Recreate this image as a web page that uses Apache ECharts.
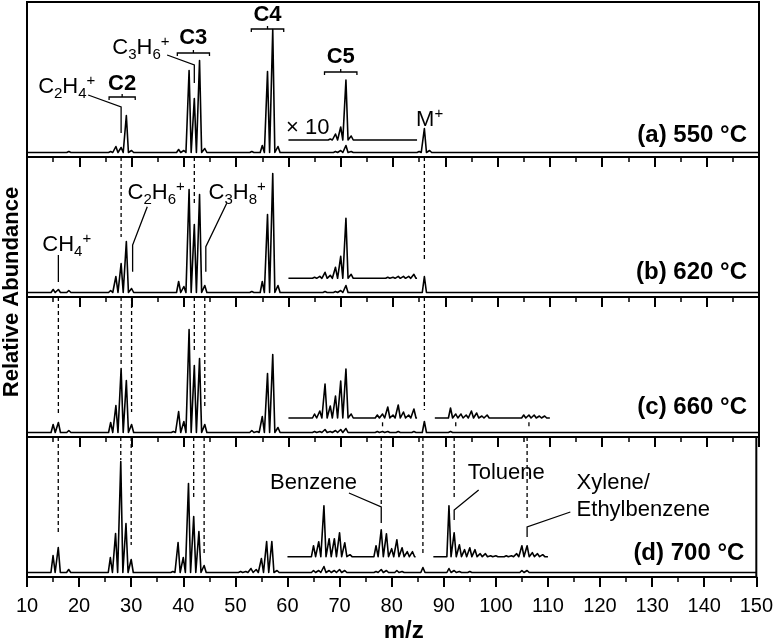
<!DOCTYPE html>
<html><head><meta charset="utf-8">
<script src="https://cdn.jsdelivr.net/npm/echarts@6/dist/echarts.min.js"></script>
<style>html,body{margin:0;padding:0;background:#fff}#c{width:776px;height:644px}</style>
</head><body><div id="c"></div>
<script>
// ---------------- data ----------------
const panelLabels = ['(a) 550 °C', '(b) 620 °C', '(c) 660 °C', '(d) 700 °C'];
const xTicks = [10, 20, 30, 40, 50, 60, 70, 80, 90, 100, 110, 120, 130, 140, 150];

// main spectra: [m/z, relative abundance]
const peaksA = [[18,1],[26,1],[27,6],[28,5],[29,37],[30,2],[39,3],[40,2],[41,82],[42,54],[43,92],[44,4],
  [53,1],[55,7],[56,81],[57,123],[58,6],[69,1],[70,2],[71,7],[72,1],[85,1],[86,24],[87,2]];
const peaksB = [[15,3],[16,3],[18,2],[26,2],[27,16],[28,29],[29,51],[30,4],[39,11],[40,6],[41,103],[42,68],[43,98],[44,7],
  [53,1],[55,11],[56,78],[57,119],[58,7],[67,1],[69,1],[70,2],[71,7],[86,16]];
const peaksC = [[15,8],[16,10],[18,2],[26,10],[27,27],[28,64],[29,52],[30,8],[38,1],[39,21],[40,11],[41,103],[42,67],[43,74],[44,8],
  [53,2],[54,1],[55,16],[56,59],[57,78],[58,5],[65,1],[66,1],[67,3],[68,1],[69,2],[70,3],[71,4],[77,1],[78,1],[79,1],[81,1],[84,1],[86,11],[91,1]];
const peaksD = [[15,17],[16,25],[18,3],[26,15],[27,39],[28,111],[29,49],[30,13],[38,1],[39,30],[40,15],[41,89],[42,56],[43,41],[44,7],
  [51,1],[52,1],[53,4],[54,3],[55,14],[56,31],[57,31],[58,2],[65,2],[66,2],[67,6],[68,2],[69,2],[70,3],[71,2],
  [77,1],[78,3],[79,2],[81,2],[82,1],[86,5],[91,4],[92,2],[93,1],[95,1],[105,2],[106,2]];

// x10 expanded segments: [m/z, abundance x10]
const insertA1 = [[68,1],[69,6],[70,13],[71,60],[72,4]];
const insertB1 = [[65,1],[66,2],[67,6],[68,3],[69,11],[70,22],[71,60],[72,4],[79,1],[80,1],[81,2],[82,2],[83,2],[84,4]];
const insertC1 = [[65,4],[66,7],[67,34],[68,12],[69,22],[70,37],[71,49],[72,4],[77,3],[78,4],[79,11],[80,3],[81,13],[82,6],[83,3],[84,9]];
const insertC2 = [[91,10],[92,4],[93,4],[94,3],[95,7],[96,5],[97,2],[98,3],[105,3],[106,3],[107,3],[108,2],[109,2]];
const insertD1 = [[65,11],[66,15],[67,51],[68,18],[69,18],[70,24],[71,14],[72,2],[77,11],[78,27],[79,23],[80,8],[81,17],[82,9],[83,5],[84,5]];
const insertD2 = [[91,51],[92,24],[93,12],[94,7],[95,9],[96,7],[97,3],[98,3],[99,1],[100,1],[102,1],[103,1],[104,3],[105,11],[106,11],[107,4],[108,3],[109,2]];
const insertRange1 = [60, 84.6];
const insertRange2 = [88, 110];

// ---------------- chart ----------------
const FONT = '"Liberation Sans", Arial, Helvetica, sans-serif';
const W = 0.4;
function trace(peaks, x0, x1, base) {
  const s = peaks.slice().sort((a, b) => a[0] - b[0]);
  const pts = [[x0, base]];
  for (const [m, h] of s) pts.push([m - W, base], [m, base + h], [m + W, base]);
  pts.push([x1, base]);
  return pts;
}
const panels = [
  { main: peaksA, ins: [[insertA1, insertRange1]], off: 12.5 },
  { main: peaksB, ins: [[insertB1, insertRange1]], off: 14.2 },
  { main: peaksC, ins: [[insertC1, insertRange1], [insertC2, insertRange2]], off: 14.5 },
  { main: peaksD, ins: [[insertD1, insertRange1], [insertD2, insertRange2]], off: 15.8 }
];
const gridPos = [[2, 155], [157, 140], [297, 140], [437, 140]];
const yMax = [150.5, 135.5, 135.5, 135.5];
const yMin = -4.5;

const chart = echarts.init(document.getElementById('c'), null, { renderer: 'canvas' });
const grid = [], xAxis = [], yAxis = [], series = [];
panels.forEach((p, i) => {
  grid.push({ left: 27, right: 17, top: gridPos[i][0], height: gridPos[i][1], show: true,
    borderColor: '#000', borderWidth: 2, backgroundColor: 'transparent' });
  xAxis.push({ type: 'value', gridIndex: i, min: xTicks[0], max: xTicks[xTicks.length - 1], interval: 10,
    axisLine: { show: true, onZero: false, lineStyle: { color: '#000', width: 2 } },
    axisTick: { show: true, inside: false, length: 10, lineStyle: { color: '#000', width: 2 } },
    minorTick: { show: true, splitNumber: 2, length: 5, lineStyle: { color: '#000', width: 1.5 } },
    splitLine: { show: false }, minorSplitLine: { show: false },
    axisLabel: { show: i === 3, color: '#000', fontSize: 20, fontFamily: FONT, margin: 19 } });
  yAxis.push({ type: 'value', gridIndex: i, min: yMin, max: yMax[i], show: false,
    splitLine: { show: false } });
  const ls = { color: '#000', width: 1.6, join: 'round' };
  series.push({ type: 'line', xAxisIndex: i, yAxisIndex: i, data: trace(p.main, 10, 150, 0),
    showSymbol: false, symbol: 'none', lineStyle: ls, silent: true, animation: false });
  p.ins.forEach(([pk, rg]) => {
    series.push({ type: 'line', xAxisIndex: i, yAxisIndex: i, data: trace(pk, rg[0], rg[1], p.off),
      showSymbol: false, symbol: 'none', lineStyle: ls, silent: true, animation: false });
  });
});
chart.setOption({ animation: false, backgroundColor: '#fff', grid, xAxis, yAxis, series });

// ---------------- annotations ----------------
const P = (i, m, v) => chart.convertToPixel({ xAxisIndex: i, yAxisIndex: i }, [m, v]);
const g = [];
const rich = {
  s: { fontSize: 15, fontFamily: FONT, verticalAlign: 'bottom', lineHeight: 15, fill: '#000' },
  p: { fontSize: 15, fontFamily: FONT, verticalAlign: 'top', lineHeight: 15, fill: '#000' }
};
function poly(i, pts, dashed) {
  g.push({ type: 'polyline', silent: true, z: 50,
    shape: { points: pts.map(([m, v]) => P(i, m, v)) },
    style: { stroke: '#000', lineWidth: 1.3, fill: null, lineDash: dashed ? [4, 3] : null } });
}
function txt(i, m, v, t, o = {}) {
  const [x, y] = P(i, m, v);
  g.push({ type: 'text', silent: true, z: 60, x, y,
    style: { text: t, fontSize: o.size || 22, fontWeight: o.bold ? 'bold' : 'normal', fontFamily: FONT,
      fill: '#000', align: o.align || 'center', verticalAlign: 'middle', lineHeight: 28, rich } });
}
function bracket(i, m0, m1, v) {
  poly(i, [[m0, v - 3], [m0, v], [m1, v], [m1, v - 3]]);
  const mc = (m0 + m1) / 2;
  poly(i, [[mc, v], [mc, v + 3]]);
}
function dash(i, m, v) { poly(i, [[m, yMax[i]], [m, v]], true); }

// panel (a)
txt(0, 17.6, 65.5, 'C{s|2}H{s|4}{p|+}');
poly(0, [[21.7, 57.5], [28, 45.5], [28, 19.5]]);
txt(0, 28.2, 68.5, 'C2', { bold: true }); bracket(0, 25.7, 30.7, 55.5);
txt(0, 31.8, 104.5, 'C{s|3}H{s|6}{p|+}');
poly(0, [[36.8, 97.5], [42, 87.5], [42, 69.5]]);
txt(0, 41.8, 114.5, 'C3', { bold: true }); bracket(0, 38.75, 44.9, 99.5);
txt(0, 56.0, 137.5, 'C4', { bold: true }); bracket(0, 52.9, 59.1, 123.5);
txt(0, 70.0, 95.5, 'C5', { bold: true }); bracket(0, 66.9, 73.1, 80.5);
txt(0, 63.7, 24.5, '× 10');
txt(0, 87.0, 32.5, 'M{p|+}');
// panel (b)
txt(1, 17.6, 47.5, 'CH{s|4}{p|+}');
poly(1, [[16, 37.5], [16, 10.5]]);
txt(1, 34.7, 99.5, 'C{s|2}H{s|6}{p|+}');
poly(1, [[33.0, 85.8], [30.2, 47.5], [30.2, 20.8]]);
txt(1, 50.2, 99.5, 'C{s|3}H{s|8}{p|+}');
poly(1, [[48.2, 89.2], [44.2, 45.8], [44.2, 20.8]]);
dash(1, 28, 55.5); dash(1, 42, 87.5); dash(1, 86, 32.5);
// panel (c)
dash(2, 16, 17.5); dash(2, 28, 65.5); dash(2, 30, 20.5); dash(2, 42, 80.5); dash(2, 44, 24.5); dash(2, 86, 22.5);
[78, 92, 106].forEach(m => poly(2, [[m, 10.2], [m, 6.2]]));
// panel (d)
dash(3, 16, 40.5); dash(3, 28, 112.5); dash(3, 30, 27.5); dash(3, 42, 75.5); dash(3, 44, 19.5); dash(3, 86, 19.5);
dash(3, 78, 65.5); dash(3, 92, 72.5); dash(3, 106, 52.5);
poly(3, [[71.8, 79.5], [78, 65.5], [78, 49.5]]); txt(3, 65.0, 89.5, 'Benzene');
poly(3, [[96.7, 82.5], [92, 62.5], [92, 52.5]]); txt(3, 102.0, 99.5, 'Toluene');
poly(3, [[114.3, 60.5], [106, 45.5], [106, 35.5]]);
txt(3, 115.5, 89.5, 'Xylene/', { align: 'left' });
txt(3, 115.5, 62.5, 'Ethylbenzene', { align: 'left' });
// panel labels
const labV = [17.5, 20.5, 25.2, 19.5];
panelLabels.forEach((t, i) => txt(i, 147.7, labV[i], t, { bold: true, align: 'right', size: 24 }));
// axis titles
txt(3, 82.3, -58.5, 'm/z', { bold: true, size: 24 });
g.push({ type: 'text', silent: true, x: 12, y: 292, rotation: Math.PI / 2,
  style: { text: 'Relative Abundance', fontSize: 22, fontWeight: 'bold', fontFamily: FONT, fill: '#000',
    align: 'center', verticalAlign: 'middle' } });
chart.setOption({ graphic: g });
</script></body></html>
